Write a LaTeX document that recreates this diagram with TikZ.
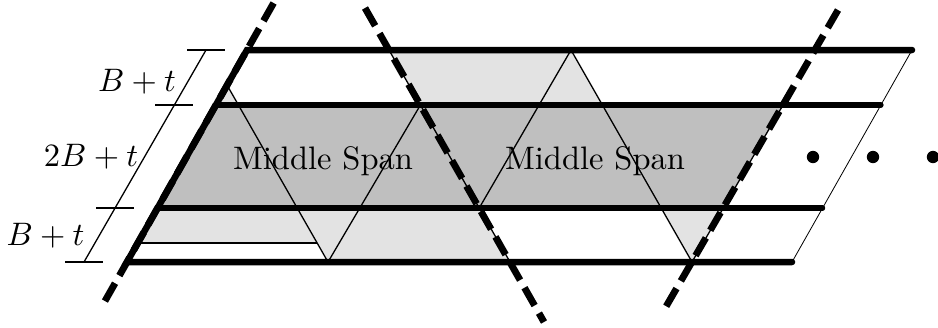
\documentclass[tikz,border=0pt]{standalone}
\usepackage{amsmath}
\begin{document}
\begin{tikzpicture}[x=0.3075pt, y=-0.3075pt,
    outer/.style={line width=2pt, line cap=round},
    inner/.style={line width=1.6pt, line cap=round},
    cut/.style={line width=2.1pt, dash pattern=on 6.3pt off 2.7pt},
    lightspan/.style={fill=black!11},
    darkspan/.style={fill=black!25}]
    \useasboundingbox (0,0) rectangle (938,327);
    \coordinate (L1) at (247,50);
    \coordinate (L2) at (215.9,105);
    \coordinate (L3) at (157.6,208);
    \coordinate (L4) at (127,262);
    \coordinate (R1) at (912,50);
    \coordinate (R2) at (881,105);
    \coordinate (R3) at (822.6,208);
    \coordinate (R4) at (792,262);
    \coordinate (Z0) at (227,85);
    \coordinate (Z1) at (328,262);
    \coordinate (Z2) at (420.4,105);
    \coordinate (Z3) at (479.2,208);
    \coordinate (Z4) at (571,50);
    \coordinate (Z5) at (692,262);
    \coordinate (S1) at (389,50);
    \coordinate (S4) at (510,262);
    \coordinate (Q2) at (783,105);
    \coordinate (Q3) at (723.3,208);
    \coordinate (Y2) at (237.4,105);
    \coordinate (Y3) at (602.4,105);
    \coordinate (Y4) at (661,208);
    \coordinate (H1) at (137.8,243);
    \coordinate (H2) at (317,243);
    \coordinate (K1) at (206,50);
    \coordinate (K4) at (84,262);
    \fill[darkspan] (L2) -- (Q2) -- (Q3) -- (L3) -- cycle;
    \fill[lightspan] (L3) -- (Z3) -- (S4) -- (Z1) -- (H2) -- (H1) -- cycle;
    \fill[lightspan] (Z0) -- (Y2) -- (L2) -- cycle;
    \fill[lightspan] (S1) -- (Z4) -- (Y3) -- (Z2) -- cycle;
    \fill[lightspan] (Y4) -- (Q3) -- (Z5) -- cycle;
    \draw (Z0) -- (Z1) -- (Z2);
    \draw (Z3) -- (Z4) -- (Z5) -- (Q2);
    \draw (S1) -- (S4);
    \draw (H1) -- (H2);
    \draw[line width=0.25pt] (R1) -- (R4);
    \draw[cut] (273.6,3) -- (104.4,302);
    \draw[cut] (365,8) -- (544,322);
    \draw[cut] (838,10) -- (664,310);
    \draw[outer] (R1) -- (L1) -- (L4) -- (R4);
    \draw[inner] (L2) -- (R2);
    \draw[inner] (L3) -- (R3);
    \draw (K1) -- (K4);
    \foreach \y/\x in {50/206,105/174.4,208/115.2,262/84}
        \draw (\x-19,\y) -- (\x+19,\y);
    \node[anchor=base] (bt1) at (137,91.5) {$B+t$};
    \node[anchor=base] (bt2) at (91,166.5) {$2B+t$};
    \node[anchor=base] (bt3) at (45.5,245) {$B+t$};
    \node[anchor=base] (ms1) at (323,169.5) {Middle Span};
    \node[anchor=base] (ms2) at (595,169.5) {Middle Span};
    \foreach \x in {813,873,933}
        \fill (\x,157) circle (1.9pt);
\end{tikzpicture}
\end{document}
